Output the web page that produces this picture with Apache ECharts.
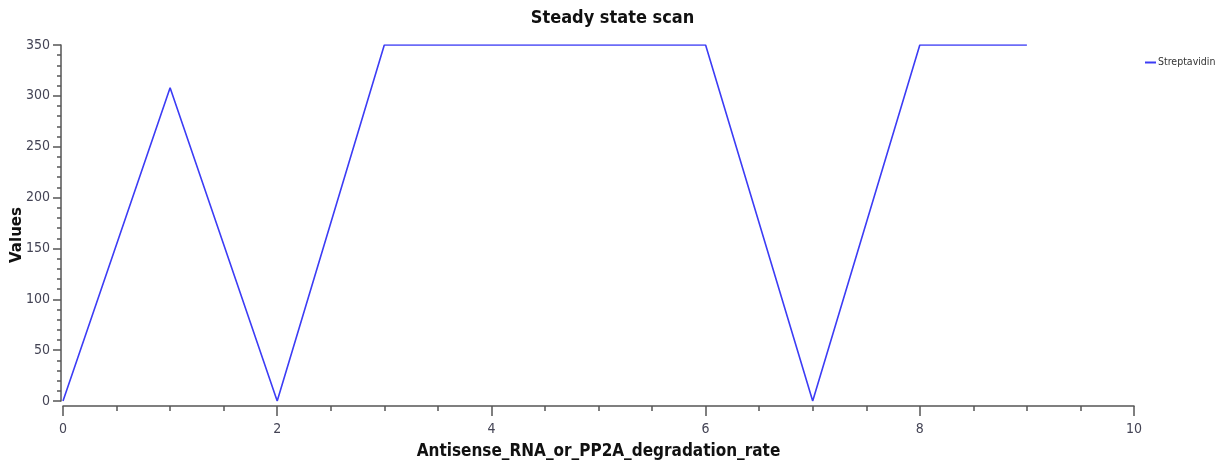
<!DOCTYPE html>
<html>
<head>
<meta charset="utf-8">
<script src="https://cdn.jsdelivr.net/npm/echarts@6/dist/echarts.min.js"></script>
<style>html,body{margin:0;padding:0;background:#fff;}#c{width:1225px;height:468px;}</style>
</head>
<body>
<div id="c"></div>
<script>
const xValues = [0, 1, 2, 3, 4, 5, 6, 7, 8, 9];
const streptavidin = [0, 308, 0, 350, 350, 350, 350, 0, 350, 350];
const seriesName = 'Streptavidin';
const titleText = 'Steady state scan';
const xName = 'Antisense_RNA_or_PP2A_degradation_rate';
const yName = 'Values';

const FONT = '"DejaVu Sans Condensed", "DejaVu Sans", sans-serif';
const chart = echarts.init(document.getElementById('c'));
chart.setOption({
  animation: false,
  backgroundColor: '#fff',
  title: {
    text: titleText, left: 'center', top: 4,
    textStyle: {fontFamily: FONT, fontWeight: 'bold', fontSize: 18, color: '#111'}
  },
  legend: {
    left: 1140, top: 52, itemWidth: 11, itemHeight: 2, itemGap: 4,
    icon: 'rect',
    textStyle: {fontFamily: FONT, fontSize: 10.5, color: '#333', padding: [0,0,0,-3]},
    data: [seriesName]
  },
  grid: {left: 63, right: 91, top: 45, bottom: 67, containLabel: false, outerBoundsMode: 'none'},
  xAxis: {
    type: 'value', min: 0, max: 10, interval: 2, offset: 5,
    name: xName, nameLocation: 'middle', nameGap: 37, nameMoveOverlap: false,
    nameTextStyle: {fontFamily: FONT, fontWeight: 'bold', fontSize: 17, color: '#111'},
    axisLine: {show: true, onZero: false, lineStyle: {color: '#555', width: 1.5}},
    axisTick: {show: true, length: 10, lineStyle: {color: '#555', width: 1.5}},
    minorTick: {show: true, splitNumber: 4, length: 5, lineStyle: {color: '#555', width: 1.5}},
    axisLabel: {fontFamily: FONT, fontSize: 14, color: '#445', margin: 16},
    splitLine: {show: false}
  },
  yAxis: {
    type: 'value', min: 0, max: 350, interval: 50, offset: 2,
    name: yName, nameLocation: 'middle', nameGap: 36, nameRotate: 90, nameMoveOverlap: false,
    nameTextStyle: {fontFamily: '"DejaVu Sans", sans-serif', fontWeight: 'bold', fontSize: 15, color: '#111', padding: [0, 24, 0, 0]},
    axisLine: {show: true, onZero: false, lineStyle: {color: '#555', width: 1.5}},
    axisTick: {show: true, length: 8, lineStyle: {color: '#555', width: 1.5}},
    minorTick: {show: true, splitNumber: 5, length: 4, lineStyle: {color: '#555', width: 1.5}},
    axisLabel: {fontFamily: FONT, fontSize: 14, color: '#445', margin: 11},
    splitLine: {show: false}
  },
  series: [{
    name: seriesName, type: 'line',
    data: xValues.map((x, i) => [x, streptavidin[i]]),
    showSymbol: false, symbol: 'none',
    lineStyle: {color: '#3c3cf5', width: 1.6},
    itemStyle: {color: '#3c3cf5'}
  }]
});
</script>
</body>
</html>
